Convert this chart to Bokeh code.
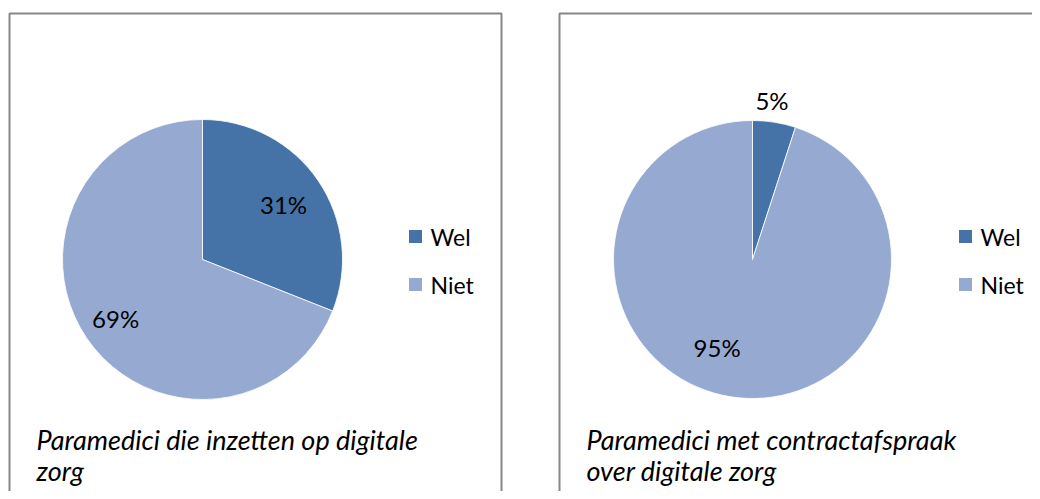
import numpy as np
from bokeh.plotting import figure
from bokeh.models import Range1d, ColumnDataSource
from bokeh.core.properties import value
from bokeh.embed import file_html
from bokeh.resources import INLINE

# ---- data ----
categories = ["Wel", "Niet"]
chart1_values = [31, 69]
chart2_values = [5, 95]
chart1_title = ["Paramedici die inzetten op digitale", "zorg"]
chart2_title = ["Paramedici met contractafspraak", "over digitale zorg"]
colors = ["#4572A7", "#95A9D1"]

W, H = 1032, 491
FONT = "Lato"

p = figure(width=W, height=H, output_backend="svg", toolbar_location=None,
           x_range=Range1d(0, W), y_range=Range1d(0, H), min_border=0)
p.axis.visible = False
p.grid.visible = False
p.outline_line_color = None
p.background_fill_color = "white"
p.border_fill_color = "white"


def px(x):  # picture x -> figure x
    return x


def py(y):  # picture y -> figure y
    return H - y


# panel frames
p.quad(left=[px(9), px(559)], right=[px(501), px(1070)],
       top=[py(13), py(13)], bottom=[py(530), py(530)],
       fill_alpha=0, line_color="#878787", line_width=2)


def pie(cx, cy, r, vals, label_factors, label_shift_deg, title, title_x):
    vals = np.array(vals, dtype=float)
    frac = vals / vals.sum()
    cum = np.concatenate([[0], np.cumsum(frac)])
    start = np.pi / 2 - 2 * np.pi * cum[:-1]
    end = np.pi / 2 - 2 * np.pi * cum[1:]
    src = ColumnDataSource(dict(x=[cx] * len(vals), y=[cy] * len(vals),
                                start=start, end=end, color=colors))
    p.wedge(x="x", y="y", radius=r, radius_units="screen",
            start_angle="start", end_angle="end", direction="clock",
            fill_color="color", line_color="white", line_width=0.8, source=src)
    mid = np.pi / 2 - 2 * np.pi * (cum[:-1] + frac / 2) - np.radians(label_shift_deg)
    lx = cx + np.array(label_factors) * r * np.cos(mid)
    ly = cy + np.array(label_factors) * r * np.sin(mid)
    labels = [f"{int(round(v))}%" for v in frac * 100]
    p.text(x=lx, y=ly, text=labels, text_font=value(FONT), text_font_size="24px",
           text_align="center", text_baseline="middle", text_color="#000000")
    # legend
    sq_x = cx + 213
    ys = [cy + 23, cy - 25]
    p.rect(x=[sq_x] * 2, y=ys, width=13, height=13, width_units="screen",
           height_units="screen", fill_color=colors, line_color=None)
    p.text(x=[sq_x + 15] * 2, y=ys, text=categories, text_font=value(FONT),
           text_font_size="23px", text_align="left", text_baseline="middle",
           text_color="#000000")
    # title
    p.text(x=[title_x] * 2, y=[py(439), py(470)], text=title, text_font=value(FONT),
           text_font_size="27px", text_font_style="italic", text_align="left",
           text_baseline="middle", text_color="#000000")


pie(px(202), py(259), 140, chart1_values, [0.70, 0.75], [0, 0], chart1_title, px(36))
pie(px(752), py(259), 139, chart2_values, [1.15, 0.68], [-2, 13], chart2_title, px(586))

open("out.html", "w").write(file_html(p, INLINE))
